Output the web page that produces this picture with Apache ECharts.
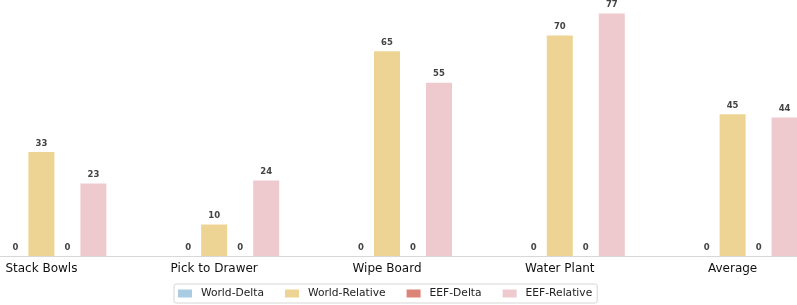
<!DOCTYPE html>
<html>
<head>
<meta charset="utf-8">
<script src="https://cdn.jsdelivr.net/npm/echarts@6/dist/echarts.min.js"></script>
<style>html,body{margin:0;padding:0;background:#fff;overflow:hidden;width:797px;height:305px;position:relative;}#c{position:absolute;left:-32px;top:0;width:864px;height:305px;}</style>
</head>
<body>
<div id="c"></div>
<script>
var categories = ['Stack Bowls', 'Pick to Drawer', 'Wipe Board', 'Water Plant', 'Average'];
var worldDelta = [0, 0, 0, 0, 0];
var worldRelative = [33, 10, 65, 70, 45];
var eefDelta = [0, 0, 0, 0, 0];
var eefRelative = [23, 24, 55, 77, 44];
var seriesNames = ['World-Delta', 'World-Relative', 'EEF-Delta', 'EEF-Relative'];
var colors = ['#a9cce3', '#eed494', '#dd8478', '#eecace'];

var chart = echarts.init(document.getElementById('c'));
var lbl = {
  show: true, position: 'top', distance: 4,
  fontFamily: 'DejaVu Sans', fontSize: 8.5, fontWeight: 'bold', color: '#444'
};
function mk(name, data, i) {
  return {
    name: name, type: 'bar', data: data, barWidth: 26, barGap: '0%',
    itemStyle: { color: colors[i] }, label: lbl, silent: true, animation: false
  };
}
chart.setOption({
  animation: false,
  grid: { left: 0, right: 0, top: 4, bottom: 49, containLabel: false },
  legend: {
    data: seriesNames, left: 206, top: 284,
    itemWidth: 14, itemHeight: 8, itemGap: 21, icon: 'rect',
    padding: [4, 5, 4, 4], borderColor: '#d6d6d6', borderWidth: 1, borderRadius: 2,
    textStyle: { fontFamily: 'DejaVu Sans', fontSize: 10.7, color: '#222', padding: [0, 0, 0, 4] }
  },
  xAxis: {
    type: 'category', data: categories,
    axisLine: { lineStyle: { color: '#d8d8d8', width: 1 } },
    axisTick: { show: false },
    axisLabel: { fontFamily: 'DejaVu Sans', fontSize: 12, color: '#111', margin: 7, padding: [0, 26, 0, 0], interval: 0 }
  },
  yAxis: { type: 'value', min: 0, max: 80, show: false, splitLine: { show: false } },
  series: [
    mk(seriesNames[0], worldDelta, 0),
    mk(seriesNames[1], worldRelative, 1),
    mk(seriesNames[2], eefDelta, 2),
    mk(seriesNames[3], eefRelative, 3)
  ]
});
</script>
</body>
</html>
